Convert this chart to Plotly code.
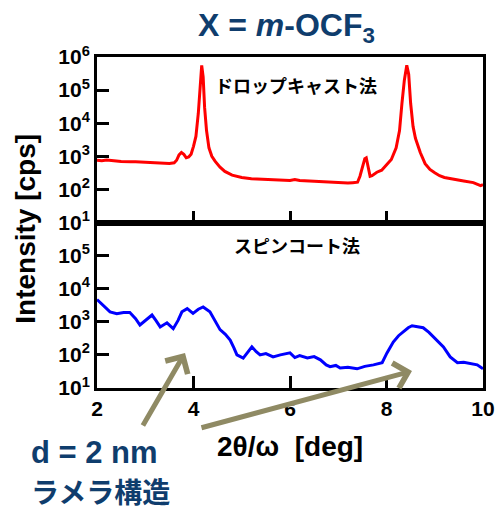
import plotly.graph_objects as go

# ---- data ----
drop_x = [2.00, 2.10, 2.20, 2.30, 2.40, 2.50, 2.60, 2.70, 2.80, 2.90, 3.00, 3.10, 3.20, 3.30, 3.40,
          3.50, 3.60, 3.65, 3.70, 3.75, 3.80, 3.85, 3.90, 3.95, 4.00, 4.05, 4.10, 4.14, 4.17, 4.20,
          4.23, 4.27, 4.32, 4.38, 4.45, 4.55, 4.65, 4.80, 5.00, 5.20, 5.40, 5.60, 5.80, 6.00, 6.10,
          6.20, 6.40, 6.60, 6.80, 7.00, 7.20, 7.30, 7.40, 7.45, 7.50, 7.55, 7.58, 7.62, 7.66, 7.70,
          7.80, 7.90, 8.00, 8.10, 8.20, 8.27, 8.32, 8.37, 8.42, 8.46, 8.50, 8.55, 8.60, 8.70, 8.80,
          8.90, 9.00, 9.10, 9.20, 9.40, 9.60, 9.80, 9.95, 10.00]
drop_y = [760, 740, 770, 730, 720, 700, 710, 690, 680, 670, 660, 650, 640, 630, 620,
          610, 640, 760, 1100, 1300, 1150, 900, 950, 1150, 2000, 4000, 20000, 200000, 560000, 250000,
          30000, 6000, 1800, 1000, 700, 470, 350, 270, 230, 210, 205, 200, 195, 186, 200,
          185, 180, 172, 165, 158, 155, 160, 165, 250, 500, 850, 900, 500, 250, 260,
          330, 380, 550, 800, 1800, 6000, 40000, 200000, 560000, 300000, 40000, 8000, 3500, 1300, 600,
          400, 320, 260, 230, 200, 180, 160, 130, 140]

spin_x = [2.00, 2.10, 2.20, 2.27, 2.41, 2.55, 2.68, 2.80, 2.89, 3.00, 3.14, 3.22, 3.31, 3.45, 3.58,
          3.68, 3.76, 3.87, 3.99, 4.10, 4.20, 4.34, 4.45, 4.55, 4.66, 4.76, 4.84, 4.90, 5.03, 5.13,
          5.21, 5.30, 5.38, 5.50, 5.65, 5.80, 6.00, 6.10, 6.20, 6.36, 6.50, 6.63, 6.75, 6.83, 6.95,
          7.04, 7.20, 7.39, 7.55, 7.73, 7.91, 8.01, 8.14, 8.25, 8.35, 8.45, 8.53, 8.65, 8.76, 8.88,
          8.97, 9.08, 9.18, 9.32, 9.47, 9.60, 9.74, 9.88, 10.00]
spin_y = [4700, 3500, 2500, 2000, 1750, 1900, 1900, 1250, 800, 1100, 1600, 1100, 700, 930, 620,
          1100, 2000, 2500, 1800, 2400, 2800, 2000, 1000, 580, 420, 280, 160, 100, 80, 120,
          175, 125, 100, 110, 87, 100, 115, 83, 95, 81, 89, 71, 50, 44, 48,
          40, 42, 38, 45, 50, 58, 115, 245, 380, 500, 660, 760, 720, 660, 480,
          355, 250, 175, 87, 58, 60, 54, 50, 38]

x_ticks = [2, 4, 6, 8, 10]
y_ticks_top = [1e1, 1e2, 1e3, 1e4, 1e5, 1e6]
y_ticks_bot = [1e1, 1e2, 1e3, 1e4, 1e5]
y_text_top = ["10<sup>1</sup>", "10<sup>2</sup>", "10<sup>3</sup>", "10<sup>4</sup>", "10<sup>5</sup>", "10<sup>6</sup>"]
y_text_bot = y_text_top[:5]

BLUE_TXT = "#0f3d6d"
OLIVE = "#8f8a64"
FONT = "Liberation Sans, Arial, sans-serif"
JFONT = "Noto Sans CJK JP, sans-serif"

fig = go.Figure()
fig.add_trace(go.Scatter(x=drop_x, y=drop_y, mode="lines", line=dict(color="#ff0000", width=3),
                         xaxis="x2", yaxis="y2", showlegend=False))
fig.add_trace(go.Scatter(x=spin_x, y=spin_y, mode="lines", line=dict(color="#0000ff", width=3),
                         xaxis="x", yaxis="y", showlegend=False))

tickfont = dict(family=FONT, size=21, color="black", weight="bold")
axis_common = dict(showline=True, linewidth=3, linecolor="black", mirror=True, ticks="inside",
                   ticklen=12, tickwidth=3, tickcolor="black", showgrid=False, zeroline=False,
                   tickfont=tickfont, automargin=False)

fig.update_layout(
    width=498, height=508,
    margin=dict(l=97, r=15, t=57, b=120),
    paper_bgcolor="white", plot_bgcolor="white",
    xaxis=dict(range=[2, 10], domain=[0, 1], anchor="y", tickvals=x_ticks,
               ticktext=[str(v) for v in x_ticks], **axis_common),
    xaxis2=dict(range=[2, 10], domain=[0, 1], anchor="y2", tickvals=x_ticks, showticklabels=False,
                matches="x", **axis_common),
    yaxis=dict(type="log", range=[1, 6], domain=[0, 0.5], anchor="x", tickvals=y_ticks_bot,
               ticktext=y_text_bot, **axis_common),
    yaxis2=dict(type="log", range=[1, 6], domain=[0.5, 1], anchor="x2", tickvals=y_ticks_top,
                ticktext=y_text_top, **axis_common),
)

def txt(text, x, y, font, xanchor="center", **kw):
    return dict(text=text, x=x, y=y, xref="paper", yref="paper", xanchor=xanchor, yanchor="middle",
                showarrow=False, font=font, **kw)

ann = []
ann.append(txt("X = <i>m</i>-OCF<sub>3</sub>", 0.492, 1.088,
               dict(family=FONT, size=32, color=BLUE_TXT, weight="bold")))
ann.append(txt("ドロップキャスト法", 0.516, 0.915, dict(family=JFONT, size=18, color="black", weight="bold")))
ann.append(txt("スピンコート法", 0.518, 0.432, dict(family=JFONT, size=18, color="black", weight="bold")))
ann.append(txt("Intensity [cps]", -0.185, 0.48, dict(family=FONT, size=28, color="black", weight="bold"),
               textangle=-90))
ann.append(txt("2θ/ω  [deg]", 0.50, -0.178, dict(family=FONT, size=28, color="black", weight="bold")))
# arrows
ann.append(dict(text="", x=0.228, y=0.106, xref="paper", yref="paper", showarrow=True,
                ax=-43, ay=74, axref="pixel", ayref="pixel", arrowhead=4, arrowsize=1,
                arrowwidth=5, arrowcolor=OLIVE))
ann.append(dict(text="", x=0.816, y=0.051, xref="paper", yref="paper", showarrow=True,
                ax=-212, ay=57, axref="pixel", ayref="pixel", arrowhead=4, arrowsize=1,
                arrowwidth=5, arrowcolor=OLIVE))
ann.append(txt("d = 2 nm", -0.176, -0.196, dict(family=FONT, size=31, color=BLUE_TXT, weight="bold"),
               xanchor="left"))
ann.append(txt("ラメラ構造", -0.176, -0.31, dict(family=JFONT, size=28, color=BLUE_TXT, weight="bold"),
               xanchor="left"))
fig.update_layout(annotations=ann)

fig.write_html("out.html")
